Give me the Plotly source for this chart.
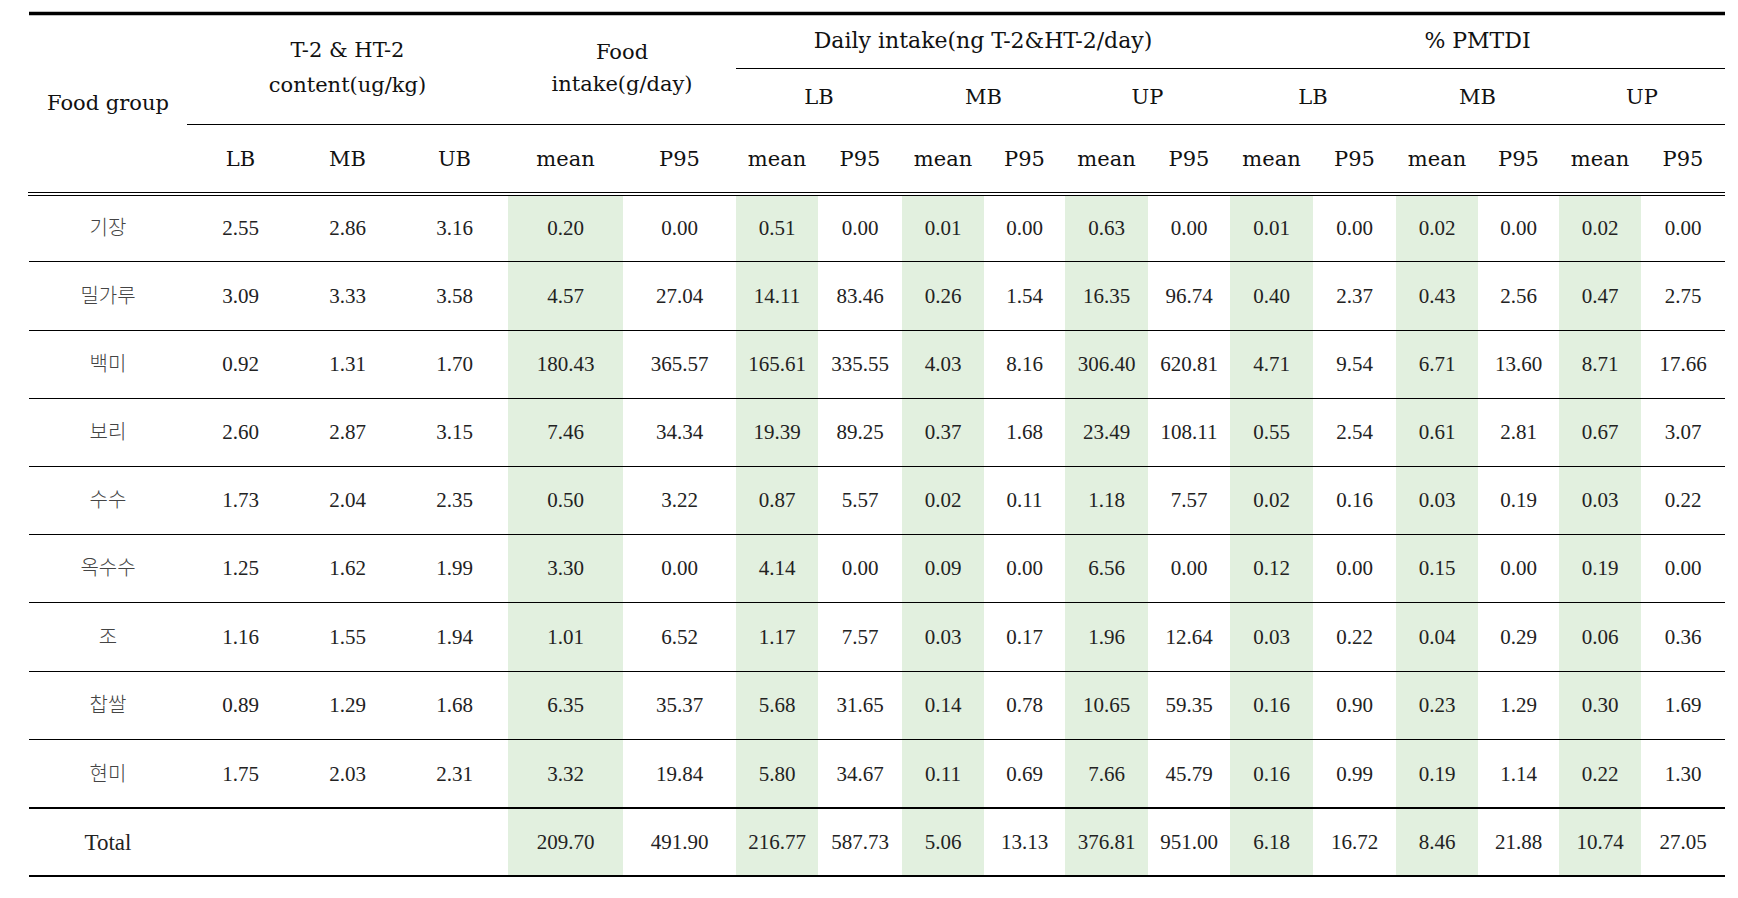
import plotly.graph_objects as go

# ---------------- data ----------------
foods = ["기장", "밀가루", "백미", "보리", "수수", "옥수수", "조", "찹쌀", "현미"]
total_label = "Total"

content_lb = [2.55, 3.09, 0.92, 2.60, 1.73, 1.25, 1.16, 0.89, 1.75]
content_mb = [2.86, 3.33, 1.31, 2.87, 2.04, 1.62, 1.55, 1.29, 2.03]
content_ub = [3.16, 3.58, 1.70, 3.15, 2.35, 1.99, 1.94, 1.68, 2.31]

intake_mean = [0.20, 4.57, 180.43, 7.46, 0.50, 3.30, 1.01, 6.35, 3.32]
intake_p95 = [0.00, 27.04, 365.57, 34.34, 3.22, 0.00, 6.52, 35.37, 19.84]

daily_lb_mean = [0.51, 14.11, 165.61, 19.39, 0.87, 4.14, 1.17, 5.68, 5.80]
daily_lb_p95 = [0.00, 83.46, 335.55, 89.25, 5.57, 0.00, 7.57, 31.65, 34.67]
daily_mb_mean = [0.01, 0.26, 4.03, 0.37, 0.02, 0.09, 0.03, 0.14, 0.11]
daily_mb_p95 = [0.00, 1.54, 8.16, 1.68, 0.11, 0.00, 0.17, 0.78, 0.69]
daily_up_mean = [0.63, 16.35, 306.40, 23.49, 1.18, 6.56, 1.96, 10.65, 7.66]
daily_up_p95 = [0.00, 96.74, 620.81, 108.11, 7.57, 0.00, 12.64, 59.35, 45.79]

pmtdi_lb_mean = [0.01, 0.40, 4.71, 0.55, 0.02, 0.12, 0.03, 0.16, 0.16]
pmtdi_lb_p95 = [0.00, 2.37, 9.54, 2.54, 0.16, 0.00, 0.22, 0.90, 0.99]
pmtdi_mb_mean = [0.02, 0.43, 6.71, 0.61, 0.03, 0.15, 0.04, 0.23, 0.19]
pmtdi_mb_p95 = [0.00, 2.56, 13.60, 2.81, 0.19, 0.00, 0.29, 1.29, 1.14]
pmtdi_up_mean = [0.02, 0.47, 8.71, 0.67, 0.03, 0.19, 0.06, 0.30, 0.22]
pmtdi_up_p95 = [0.00, 2.75, 17.66, 3.07, 0.22, 0.00, 0.36, 1.69, 1.30]

# totals (None = empty cell)
totals = [None, None, None, 209.70, 491.90, 216.77, 587.73, 5.06, 13.13,
          376.81, 951.00, 6.18, 16.72, 8.46, 21.88, 10.74, 27.05]

# header labels
h_food_group = "Food group"
h_content = ["T-2 & HT-2", "content(ug/kg)"]
h_intake = ["Food", "intake(g/day)"]
h_daily = "Daily intake(ng T-2&HT-2/day)"
h_pmtdi = "% PMTDI"
h_bounds = ["LB", "MB", "UP"]
h_content_sub = ["LB", "MB", "UB"]
h_stat = ["mean", "P95"]

value_columns = [content_lb, content_mb, content_ub, intake_mean, intake_p95,
                 daily_lb_mean, daily_lb_p95, daily_mb_mean, daily_mb_p95,
                 daily_up_mean, daily_up_p95, pmtdi_lb_mean, pmtdi_lb_p95,
                 pmtdi_mb_mean, pmtdi_mb_p95, pmtdi_up_mean, pmtdi_up_p95]
shaded = [False, False, False, True, False,
          True, False, True, False, True, False,
          True, False, True, False, True, False]

# ---------------- layout geometry (pixels) ----------------
W, H = 1738, 898
col_edges = [29, 187, 294, 401, 508, 623, 736, 818, 902, 984, 1065, 1148,
             1230, 1313, 1396, 1478, 1559, 1641, 1725]
y_top, y_h1, y_h2, y_dbl = 13, 68, 124, 192
row_edges = [195, 261, 330, 398, 466, 534, 602, 671, 739, 808, 876]

SERIF = "DejaVu Serif"
NUM = "Liberation Serif"
KR = "Noto Sans CJK KR"
GREEN = "rgb(226,240,223)"

def cx(i0, i1=None):
    if i1 is None:
        i1 = i0 + 1
    return (col_edges[i0] + col_edges[i1]) / 2

row_centers = [(row_edges[i] + row_edges[i + 1]) / 2 + 2 for i in range(len(row_edges) - 1)]

fig = go.Figure()

def add_text(xs, ys, texts, family, size, color="#111", weight=None):
    tf = dict(family=family, size=size, color=color)
    if weight is not None:
        tf["weight"] = weight
    fig.add_trace(go.Scatter(
        x=xs, y=ys, text=texts, mode="text", textposition="middle center",
        textfont=tf, hoverinfo="skip", showlegend=False))

# ---------- header text ----------
add_text([cx(0)], [(y_top + y_dbl) / 2 + 2], [h_food_group], SERIF, 21)
add_text([cx(1, 4)] * 2, [52, 87], h_content, SERIF, 21)
add_text([cx(4, 6)] * 2, [54, 86], h_intake, SERIF, 21)
add_text([cx(6, 12)], [(y_top + y_h1) / 2 + 2], [h_daily], SERIF, 22)
add_text([cx(12, 18)], [(y_top + y_h1) / 2 + 2], [h_pmtdi], SERIF, 22)

b_x = [cx(6 + 2 * k, 8 + 2 * k) for k in range(6)]
add_text(b_x, [(y_h1 + y_h2) / 2 + 3] * 6, h_bounds * 2, SERIF, 21)

sub_x = [cx(i) for i in range(1, 18)]
sub_t = h_content_sub + h_stat * 7
add_text(sub_x, [(y_h2 + y_dbl) / 2 + 3] * 17, sub_t, SERIF, 21)

# ---------- body ----------
add_text([cx(0)] * len(foods), row_centers[:len(foods)], foods, KR, 20, "#444", 300)
add_text([cx(0)], [row_centers[-1]], [total_label], NUM, 23, "#222")

for j, col in enumerate(value_columns):
    xs = [cx(j + 1)] * len(col)
    add_text(xs, row_centers[:len(col)], [f"{v:.2f}" for v in col], NUM, 21, "#222")
tx, tt = [], []
for j, v in enumerate(totals):
    if v is not None:
        tx.append(cx(j + 1))
        tt.append(f"{v:.2f}")
add_text(tx, [row_centers[-1]] * len(tx), tt, NUM, 21, "#222")

# ---------- shapes ----------
shapes = []
for j, s in enumerate(shaded):
    if s:
        shapes.append(dict(type="rect", xref="x", yref="y",
                           x0=col_edges[j + 1], x1=col_edges[j + 2],
                           y0=row_edges[0], y1=row_edges[-1],
                           fillcolor=GREEN, line=dict(width=0), layer="below"))

def hline(y, x0, x1, w):
    shapes.append(dict(type="line", xref="x", yref="y", x0=x0, x1=x1, y0=y, y1=y,
                       line=dict(color="black", width=w), layer="above"))

L, R = col_edges[0], col_edges[-1]
hline(y_top + 0.5, L, R, 3.5)
hline(y_h1 + 0.5, col_edges[6], R, 1)
hline(y_h2 + 0.5, col_edges[1], R, 1)
hline(y_dbl + 0.5, L - 1, R, 1)
hline(y_dbl + 3.5, L - 1, R, 1)
for y in row_edges[1:-2]:
    hline(y + 0.5, L, R, 1)
hline(row_edges[-2], L, R, 2)
hline(row_edges[-1], L, R, 2)

fig.update_layout(
    width=W, height=H, autosize=False,
    margin=dict(l=0, r=0, t=0, b=0, pad=0),
    paper_bgcolor="white", plot_bgcolor="white",
    xaxis=dict(range=[0, W], visible=False, fixedrange=True),
    yaxis=dict(range=[H, 0], visible=False, fixedrange=True),
    shapes=shapes, showlegend=False,
)

fig.write_html("out.html", config={"displayModeBar": False, "staticPlot": True},
               post_script="document.body.style.margin='0';")
